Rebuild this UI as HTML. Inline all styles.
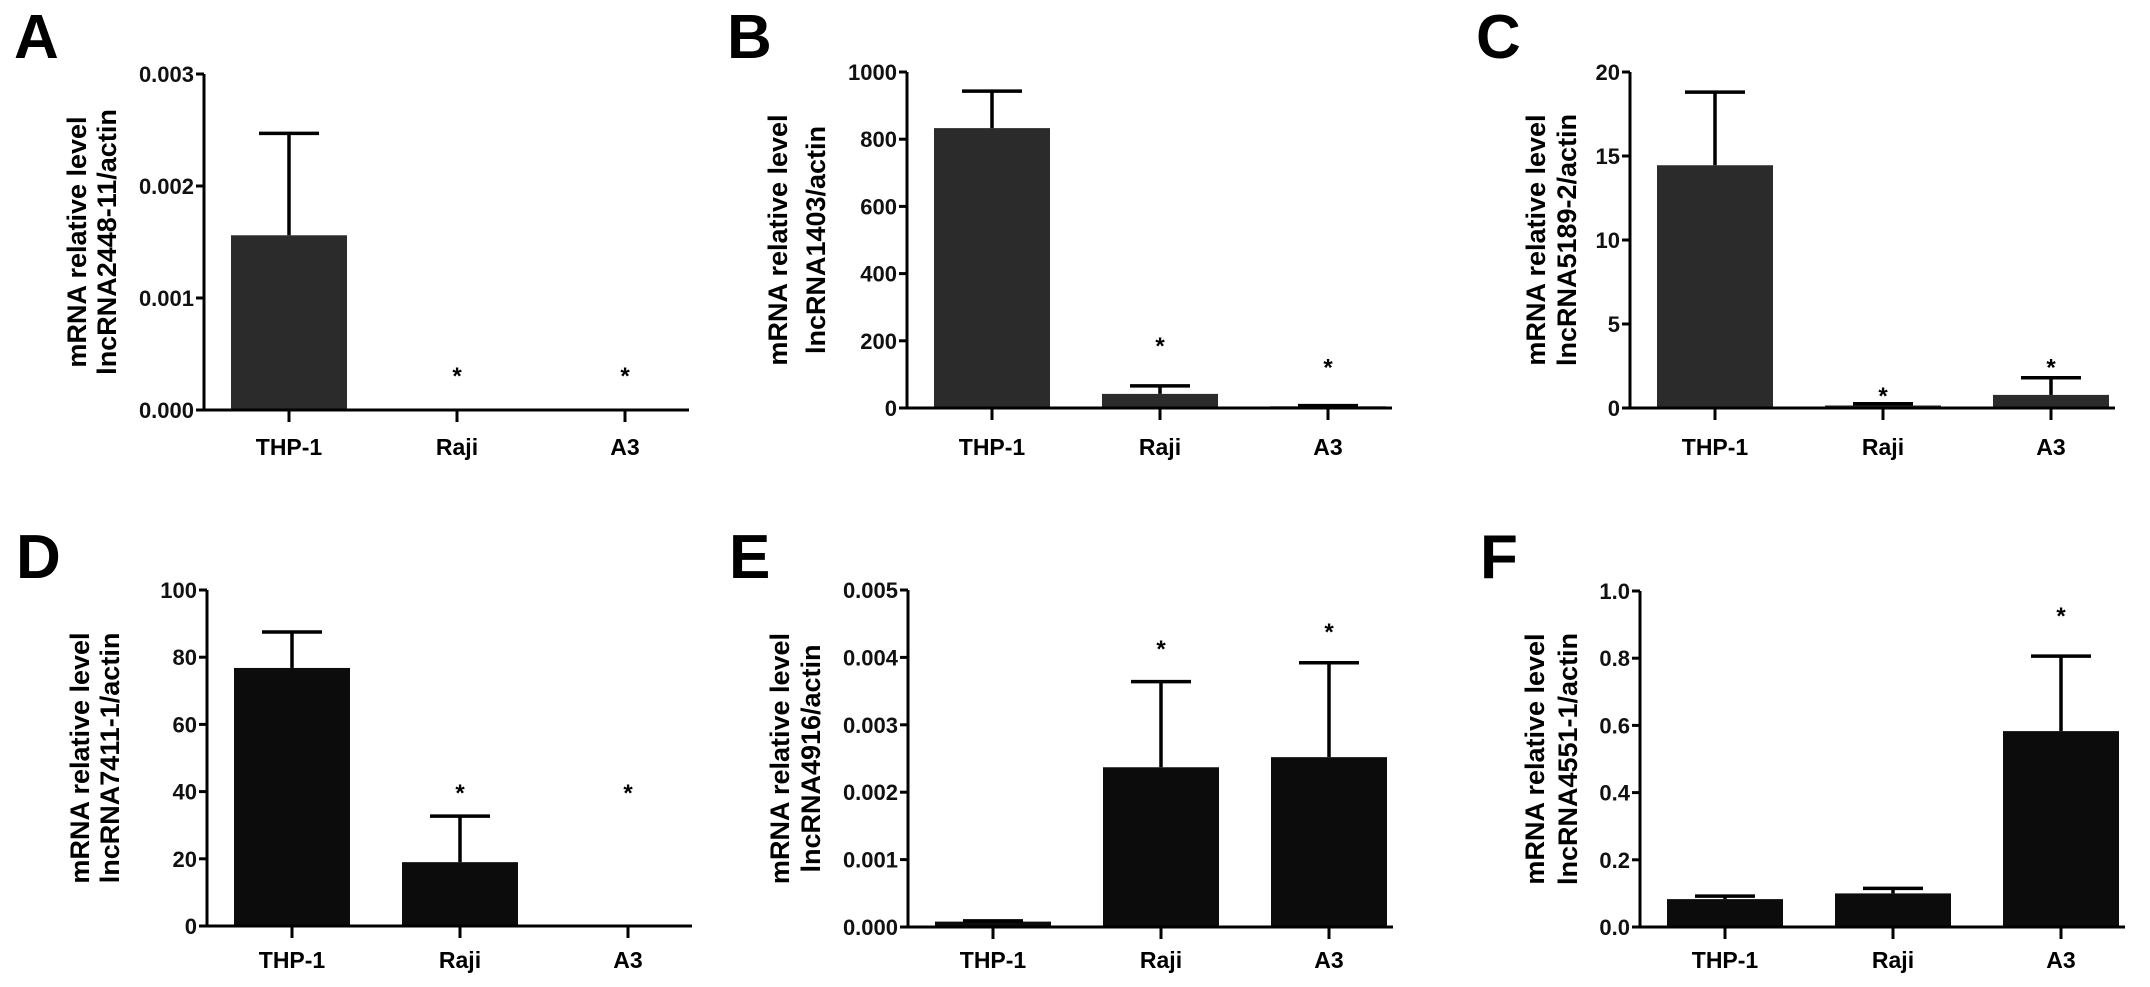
<!DOCTYPE html>
<html><head><meta charset="utf-8"><style>
html,body{margin:0;padding:0;background:#fff;}
svg{display:block;font-family:"Liberation Sans",Arial,sans-serif;font-weight:bold;}
</style></head><body>
<svg id="fig" width="2150" height="987" viewBox="0 0 2150 987" xmlns="http://www.w3.org/2000/svg"></svg>
<script>
const categories = ["THP-1","Raji","A3"];
const panelLetters = ["A","B","C","D","E","F"];
const yTitles = ["lncRNA2448-11/actin","lncRNA1403/actin","lncRNA5189-2/actin","lncRNA7411-1/actin","lncRNA4916/actin","lncRNA4551-1/actin"];
const yMax = [0.003,1000,20,100,0.005,1.0];
const tickStep = [0.001,200,5,20,0.001,0.2];
const tickDecimals = [3,0,0,0,3,1];
const meansA = [0.00156,0,0];
const errA = [0.00247,null,null];
const meansB = [833,42,5];
const errB = [943,66,7];
const meansC = [14.45,0.15,0.78];
const errC = [18.8,0.25,1.8];
const meansD = [76.8,19,0];
const errD = [87.5,32.7,null];
const meansE = [0.00008,0.00237,0.00252];
const errE = [0.00009,0.00364,0.00392];
const meansF = [0.083,0.10,0.583];
const errF = [0.092,0.115,0.806];
const starsA = [null,0.00035,0.00035];
const starsB = [null,200,135];
const starsC = [null,1.0,2.7];
const starsD = [null,41,41];
const starsE = [null,0.0042,0.00445];
const starsF = [null,null,0.94];

const means=[meansA,meansB,meansC,meansD,meansE,meansF];
const errs=[errA,errB,errC,errD,errE,errF];
const stars=[starsA,starsB,starsC,starsD,starsE,starsF];
const layout=[
 {ax:204,top:74,zero:410,lx:14,ly:58,t1:76,t2:106,fill:"#2b2b2b",labY:455},
 {ax:907,top:72,zero:408,lx:727,ly:58,t1:777,t2:815,fill:"#2b2b2b",labY:455},
 {ax:1630,top:72,zero:408,lx:1476,ly:58,t1:1535,t2:1566,fill:"#2b2b2b",labY:455},
 {ax:207,top:590,zero:926,lx:16,ly:578,t1:79,t2:109,fill:"#0c0c0c",labY:968},
 {ax:908,top:590,zero:927,lx:729,ly:578,t1:779,t2:810,fill:"#0c0c0c",labY:968},
 {ax:1640,top:591,zero:927,lx:1480,ly:578,t1:1534,t2:1567,fill:"#0c0c0c",labY:968}
];
const NS="http://www.w3.org/2000/svg";
const svg=document.getElementById('fig');
function mk(tag,attrs,parent){const e=document.createElementNS(NS,tag);for(const k in attrs)e.setAttribute(k,attrs[k]);(parent||svg).appendChild(e);return e;}

for(let p=0;p<6;p++){
  const L=layout[p];
  const g=mk('g',{});
  
  
  const y=v=>L.zero-(v/yMax[p])*(L.zero-L.top);
  const x=i=>L.ax+85+i*168;
  const lt=mk('text',{x:L.lx,y:L.ly,'font-size':62},g);lt.textContent=panelLetters[p];
  
  
  for(let i=0;i<3;i++){
    const m=means[p][i];
    if(m>0){
      const r=mk('rect',{x:x(i)-58,y:y(m),width:116,height:L.zero-y(m),fill:L.fill},g);
      
      
    }
    const e=errs[p][i];
    if(e!=null){
      const eg=mk('g',{stroke:'#000','stroke-width':3.5},g);
      
      
      mk('line',{x1:x(i),x2:x(i),y1:y(m),y2:y(e)},eg);
      mk('line',{x1:x(i)-30,x2:x(i)+30,y1:y(e),y2:y(e)},eg);
    }
    const s=stars[p][i];
    if(s!=null){
      const st=mk('text',{x:x(i),y:y(s)+13,'font-size':24,'text-anchor':'middle'},g);st.textContent='*';
      
      
    }
    mk('line',{x1:x(i),x2:x(i),y1:L.zero,y2:L.zero+12,stroke:'#000','stroke-width':3},g);
    const cl=mk('text',{x:x(i),y:L.labY,'font-size':23,'text-anchor':'middle'},g);cl.textContent=categories[i];
    
    
  }
  const axg=mk('g',{stroke:'#000','stroke-width':3,fill:'none'},g);
  
  
  mk('path',{d:`M${L.ax},${L.top} V${L.zero} H${L.ax+485}`},axg);
  const n=Math.round(yMax[p]/tickStep[p]);
  for(let k=0;k<=n;k++){
    const v=k*tickStep[p];
    mk('line',{x1:L.ax-8,x2:L.ax,y1:y(v),y2:y(v),stroke:'#000','stroke-width':3},g);
    const tl=mk('text',{x:L.ax-10,y:y(v)+8,'font-size':22,'text-anchor':'end',fill:'#111'},g);
    tl.textContent=v.toFixed(tickDecimals[p]);
    
    
  }
  const cy=(L.top+L.zero)/2;
  const t1=mk('text',{'font-size':27,'text-anchor':'middle',transform:`translate(${L.t1+10},${cy}) rotate(-90)`},g);
  t1.textContent='mRNA relative level';
  
  
  const t2=mk('text',{'font-size':27,'text-anchor':'middle',transform:`translate(${L.t2+10},${cy}) rotate(-90)`},g);
  t2.textContent=yTitles[p];
  
  
}
</script>
</body></html>
